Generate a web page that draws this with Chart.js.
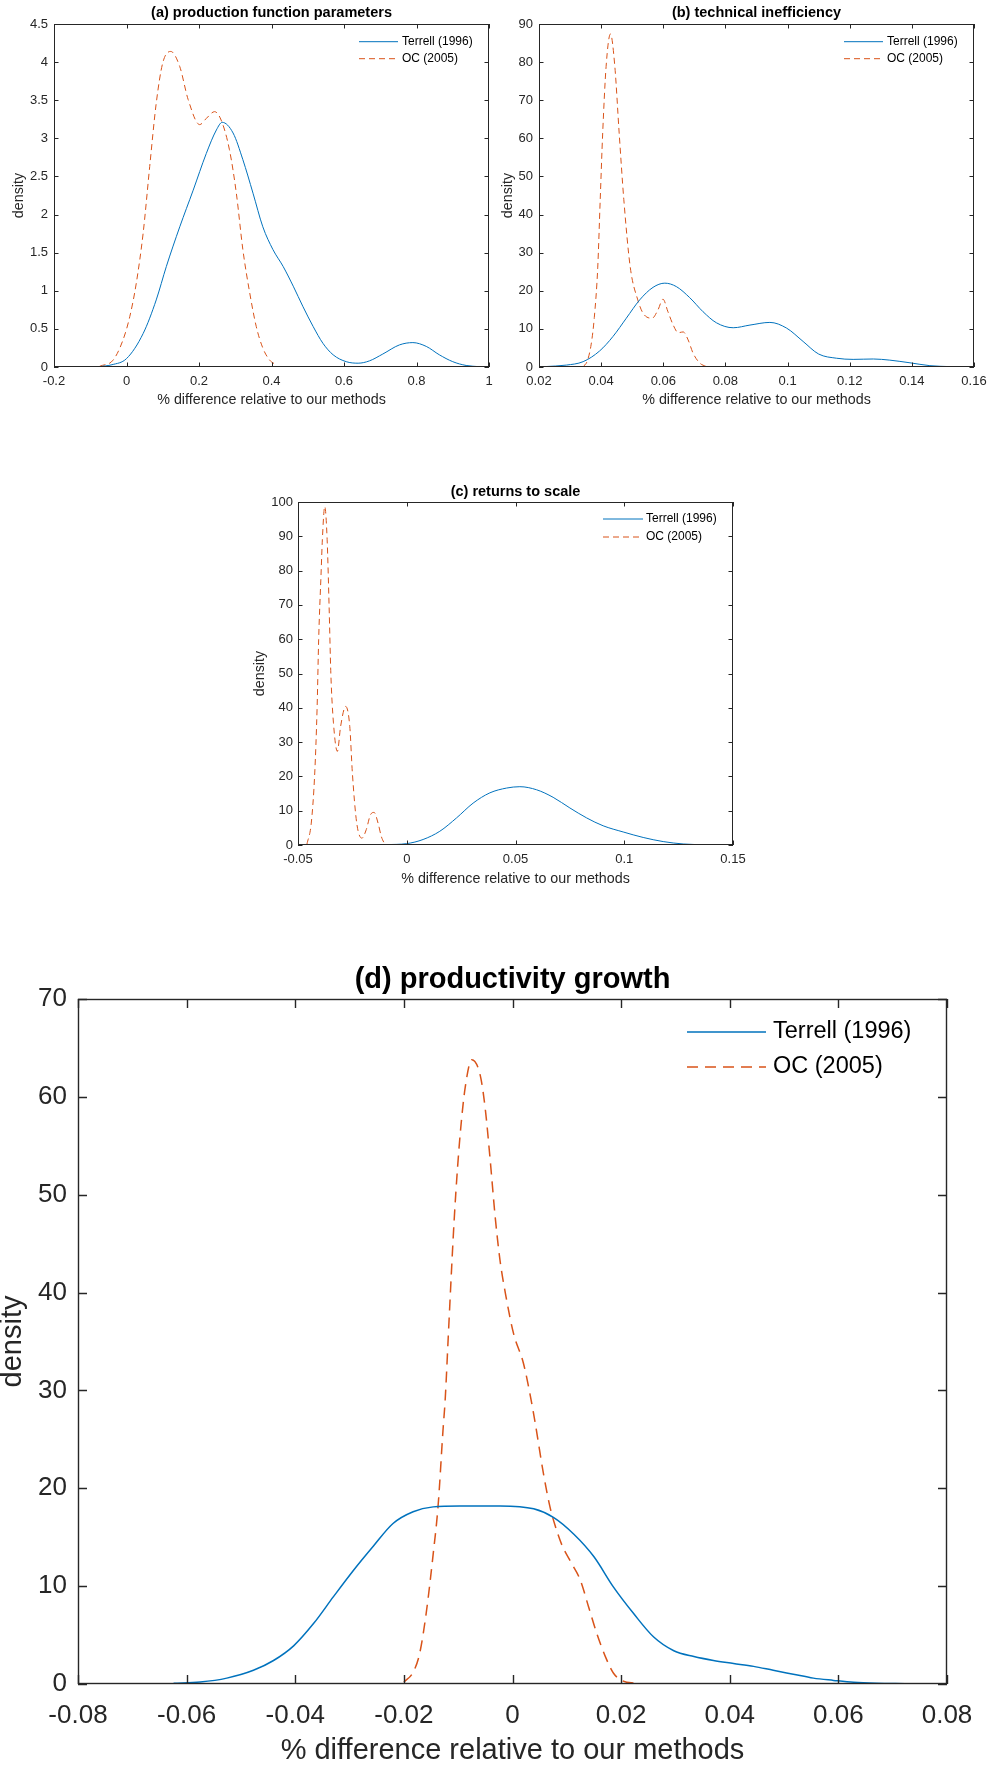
<!DOCTYPE html>
<html>
<head>
<meta charset="utf-8">
<script src="https://cdn.jsdelivr.net/npm/chart.js@4.4.1/dist/chart.umd.min.js"></script>
<style>
  html, body { margin: 0; padding: 0; background: #fff; overflow: hidden; }
  body { position: relative; width: 990px; height: 1768px; }
  canvas { position: absolute; }
</style>
</head>
<body>
<canvas id="panelA"></canvas>
<canvas id="panelB"></canvas>
<canvas id="panelC"></canvas>
<canvas id="panelD"></canvas>
<script>
const seriesLabels = ['Terrell (1996)', 'OC (2005)'];

// (a) production function parameters
const aTicksX = [-0.2, 0, 0.2, 0.4, 0.6, 0.8, 1];
const aTicksY = [0, 0.5, 1, 1.5, 2, 2.5, 3, 3.5, 4, 4.5];
const aTerrellX = [-0.074, -0.04, 0, 0.046, 0.082, 0.11, 0.147, 0.184, 0.22, 0.248, 0.264, 0.294, 0.321, 0.349, 0.376, 0.404, 0.432, 0.46, 0.487, 0.515, 0.542, 0.57, 0.606, 0.639, 0.67, 0.707, 0.753, 0.79, 0.827, 0.863, 0.9, 0.937, 0.974];
const aTerrellY = [0.005, 0.03, 0.11, 0.44, 0.88, 1.32, 1.84, 2.32, 2.8, 3.11, 3.21, 3.07, 2.72, 2.28, 1.84, 1.54, 1.32, 1.06, 0.79, 0.53, 0.31, 0.16, 0.07, 0.05, 0.08, 0.17, 0.29, 0.32, 0.27, 0.16, 0.07, 0.02, 0.004];
const aOcX = [-0.074, -0.037, -0.01, 0.009, 0.027, 0.046, 0.064, 0.082, 0.1, 0.122, 0.147, 0.17, 0.202, 0.22, 0.243, 0.261, 0.284, 0.303, 0.321, 0.34, 0.358, 0.376, 0.395, 0.413];
const aOcY = [0.01, 0.09, 0.35, 0.66, 1.1, 1.76, 2.63, 3.46, 3.99, 4.14, 3.94, 3.51, 3.18, 3.26, 3.35, 3.24, 2.85, 2.28, 1.54, 0.97, 0.53, 0.25, 0.09, 0.03];

// (b) technical inefficiency
const bTicksX = [0.02, 0.04, 0.06, 0.08, 0.1, 0.12, 0.14, 0.16];
const bTicksY = [0, 10, 20, 30, 40, 50, 60, 70, 80, 90];
const bTerrellX = [0.0218, 0.0288, 0.0342, 0.0395, 0.0438, 0.0481, 0.0524, 0.0567, 0.0605, 0.0642, 0.0685, 0.0728, 0.0771, 0.0825, 0.0879, 0.0943, 0.0997, 0.105, 0.11, 0.1158, 0.1211, 0.1276, 0.1329, 0.1394, 0.1458, 0.1523, 0.1576];
const bTerrellY = [0.1, 0.5, 1.4, 4.2, 8, 12.8, 17.6, 20.9, 22, 21.1, 18.2, 14.5, 11.6, 10.3, 11, 11.7, 10.2, 6.7, 3.4, 2.3, 2, 2.1, 1.8, 1.1, 0.35, 0.1, 0];
const bOcX = [0.0342, 0.0355, 0.0368, 0.0378, 0.0389, 0.0397, 0.0405, 0.0416, 0.043, 0.0444, 0.0458, 0.0473, 0.0494, 0.0518, 0.0535, 0.0564, 0.0583, 0.0599, 0.0615, 0.0632, 0.0648, 0.0664, 0.068, 0.0696, 0.0718, 0.0739];
const bOcY = [0.1, 1.5, 6, 13, 26, 43.9, 61.4, 78.9, 87.4, 78.9, 61.4, 43.9, 26, 17.6, 14.1, 12.8, 15, 17.8, 14.5, 11, 9, 9.2, 7.1, 3.6, 1, 0.1];

// (c) returns to scale
const cTicksX = [-0.05, 0, 0.05, 0.1, 0.15];
const cTicksY = [0, 10, 20, 30, 40, 50, 60, 70, 80, 90, 100];
const cTerrellX = [-0.0094, 0, 0.0075, 0.0152, 0.0229, 0.0305, 0.0382, 0.0459, 0.052, 0.0597, 0.0673, 0.075, 0.0827, 0.0903, 0.0995, 0.1087, 0.1179, 0.1271, 0.1394];
const cTerrellY = [0.1, 0.4, 1.6, 4, 7.9, 12.2, 15.2, 16.6, 17, 16.1, 13.9, 10.8, 7.9, 5.6, 3.8, 2.2, 1, 0.3, 0];
const cOcX = [-0.0459, -0.0439, -0.0423, -0.0412, -0.0405, -0.0394, -0.0388, -0.0377, -0.0366, -0.0357, -0.0349, -0.0337, -0.0319, -0.0304, -0.0281, -0.0262, -0.025, -0.023, -0.0206, -0.0186, -0.0167, -0.015, -0.0132, -0.0117, -0.0101];
const cOcY = [0.2, 6.4, 21, 40.4, 59.9, 79, 89, 98.7, 89, 69.6, 50, 35.6, 27.3, 34.6, 40.4, 34.6, 21, 6.4, 2, 4.5, 8.8, 9.5, 6.4, 2.5, 0.2];

// (d) productivity growth
const dTicksX = [-0.08, -0.06, -0.04, -0.02, 0, 0.02, 0.04, 0.06, 0.08];
const dTicksY = [0, 10, 20, 30, 40, 50, 60, 70];
const dTerrellX = [-0.0624, -0.0575, -0.0526, -0.0477, -0.044, -0.0403, -0.0366, -0.033, -0.0293, -0.0256, -0.022, -0.0183, -0.0146, -0.0097, -0.0023, 0.0039, 0.0076, 0.0113, 0.015, 0.0186, 0.0223, 0.026, 0.0297, 0.0334, 0.037, 0.0407, 0.0444, 0.048, 0.0517, 0.0554, 0.0591, 0.0628, 0.067, 0.0723];
const dTerrellY = [0.07, 0.2, 0.6, 1.4, 2.4, 3.9, 6.2, 8.9, 11.6, 14.1, 16.4, 17.6, 18.1, 18.2, 18.2, 17.9, 17, 15.3, 13, 9.9, 7.2, 4.8, 3.4, 2.8, 2.4, 2.1, 1.8, 1.4, 1, 0.6, 0.37, 0.17, 0.07, 0.03];
const dOcX = [-0.02, -0.0183, -0.0171, -0.0159, -0.0146, -0.0137, -0.0128, -0.0124, -0.0118, -0.0112, -0.0107, -0.0101, -0.0095, -0.0087, -0.0075, -0.0059, -0.005, -0.0041, -0.0032, -0.0023, -0.0013, 0.0002, 0.002, 0.0033, 0.0042, 0.0057, 0.0069, 0.0079, 0.0091, 0.0109, 0.0125, 0.014, 0.0155, 0.0171, 0.0186, 0.0204, 0.0226];
const dOcY = [0.2, 1.2, 3.1, 7.2, 13.3, 18.2, 25.9, 29, 35.8, 42.6, 47.8, 52.9, 57, 61, 63.8, 62.1, 58.7, 53.5, 47.8, 43.3, 39.9, 35.8, 32.8, 29.4, 26.6, 21.5, 18.1, 16.1, 14.2, 12.3, 10.6, 7.9, 5.2, 2.8, 1.1, 0.3, 0.07];

const FONT = '"Liberation Sans", Arial, Helvetica, sans-serif';
const AXIS_COLOR = '#262626';
const BLUE = '#0072BD';
const ORANGE = '#D95319';

function points(xs, ys) {
  return xs.map(function(x, i) { return { x: x, y: ys[i] }; });
}

// matlab style box with inward ticks on all four sides
const boxTicks = {
  id: 'boxTicks',
  afterDatasetsDraw(chart, args, o) {
    const ctx = chart.ctx;
    const a = chart.chartArea;
    const x = chart.scales.x, y = chart.scales.y;
    ctx.save();
    ctx.strokeStyle = AXIS_COLOR;
    ctx.lineWidth = o.width;
    ctx.beginPath();
    x.ticks.forEach(function(t) {
      const px = Math.round(x.getPixelForValue(t.value)) + 0.5;
      ctx.moveTo(px, a.bottom); ctx.lineTo(px, a.bottom - o.len);
      ctx.moveTo(px, a.top); ctx.lineTo(px, a.top + o.len);
    });
    y.ticks.forEach(function(t) {
      const py = Math.round(y.getPixelForValue(t.value)) + 0.5;
      ctx.moveTo(a.left, py); ctx.lineTo(a.left + o.len, py);
      ctx.moveTo(a.right, py); ctx.lineTo(a.right - o.len, py);
    });
    ctx.stroke();
    ctx.strokeRect(a.left + 0.5, a.top + 0.5, a.right - a.left - 1, a.bottom - a.top - 1);
    ctx.restore();
  }
};

// legend drawn inside the axes, top right, no box
const insideLegend = {
  id: 'insideLegend',
  afterDatasetsDraw(chart, args, o) {
    const ctx = chart.ctx;
    const a = chart.chartArea;
    ctx.save();
    ctx.font = o.size + 'px ' + FONT;
    ctx.textBaseline = 'middle';
    ctx.textAlign = 'left';
    ctx.fillStyle = '#000';
    chart.data.datasets.forEach(function(ds, i) {
      const yy = a.top + o.rows[i];
      ctx.strokeStyle = ds.borderColor;
      ctx.lineWidth = ds.borderWidth;
      ctx.setLineDash(ds.borderDash || []);
      ctx.beginPath();
      ctx.moveTo(a.right - o.lineStart, yy);
      ctx.lineTo(a.right - o.lineEnd, yy);
      ctx.stroke();
      ctx.setLineDash([]);
      ctx.fillText(ds.label, a.right - o.textStart, yy);
    });
    ctx.restore();
  }
};

function createDensityChart(canvasId, p) {
  const canvas = document.getElementById(canvasId);
  const w = p.box.right - p.box.left + 2 * p.L;
  const h = p.T + (p.box.bottom - p.box.top) + p.B;
  canvas.width = w;
  canvas.height = h;
  canvas.style.left = (p.box.left - p.L) + 'px';
  canvas.style.top = (p.box.top - p.T) + 'px';
  canvas.style.width = w + 'px';
  canvas.style.height = h + 'px';

  const tickFont = { family: FONT, size: p.tick };
  const labelFont = { family: FONT, size: p.label, lineHeight: 1.2 };
  const titleTop = p.titleTop || 0;

  return new Chart(canvas, {
    type: 'line',
    data: {
      datasets: [
        { label: seriesLabels[0], data: points(p.terrellX, p.terrellY), borderColor: BLUE, borderWidth: p.lw,
          pointRadius: 0, fill: false, cubicInterpolationMode: 'monotone' },
        { label: seriesLabels[1], data: points(p.ocX, p.ocY), borderColor: ORANGE, borderWidth: p.lw,
          borderDash: p.dash, pointRadius: 0, fill: false, cubicInterpolationMode: 'monotone' }
      ]
    },
    options: {
      responsive: false,
      animation: false,
      devicePixelRatio: 1,
      events: [],
      layout: { padding: 0 },
      plugins: {
        legend: { display: false },
        tooltip: { enabled: false },
        title: {
          display: true, text: p.title, color: '#000',
          font: { family: FONT, size: p.titleSize, weight: 'bold', lineHeight: 1.2 },
          padding: { top: titleTop, bottom: p.T - titleTop - p.titleSize * 1.2 }
        },
        boxTicks: { width: p.axisWidth, len: p.tickLen },
        insideLegend: p.legend
      },
      scales: {
        x: {
          type: 'linear', position: 'bottom',
          min: p.xTicks[0], max: p.xTicks[p.xTicks.length - 1],
          afterBuildTicks: function(s) { s.ticks = p.xTicks.map(function(v) { return { value: v }; }); },
          afterFit: function(s) { s.height = p.B; },
          ticks: { color: AXIS_COLOR, font: tickFont, padding: p.xPad, maxRotation: 0, autoSkip: false,
                   callback: function(v) { return String(v); } },
          grid: { display: false, drawTicks: false, tickLength: 0 },
          border: { display: false },
          title: { display: true, text: '% difference relative to our methods', color: AXIS_COLOR, font: labelFont, padding: 0 }
        },
        y: {
          type: 'linear', position: 'left',
          min: p.yTicks[0], max: p.yTicks[p.yTicks.length - 1],
          afterBuildTicks: function(s) { s.ticks = p.yTicks.map(function(v) { return { value: v }; }); },
          afterFit: function(s) { s.width = p.L; },
          ticks: { color: AXIS_COLOR, font: tickFont, padding: p.yPad, autoSkip: false,
                   callback: function(v) { return String(v); } },
          grid: { display: false, drawTicks: false, tickLength: 0 },
          border: { display: false },
          title: { display: true, text: 'density', color: AXIS_COLOR, font: labelFont, padding: 0 }
        },
        yr: {
          type: 'linear', position: 'right', display: true,
          afterFit: function(s) { s.width = p.L; },
          ticks: { display: false },
          grid: { display: false, drawTicks: false, tickLength: 0 },
          border: { display: false }
        }
      }
    },
    plugins: [boxTicks, insideLegend]
  });
}

const smallPanel = {
  tick: 13, label: 14.3, titleSize: 14.5, lw: 1, dash: [6, 4], axisWidth: 1, tickLen: 4.5,
  xPad: 7, yPad: 6
};

createDensityChart('panelA', Object.assign({}, smallPanel, {
  box: { left: 54, top: 24, right: 489, bottom: 367 }, L: 44, T: 20, B: 42,
  title: '(a) production function parameters',
  xTicks: aTicksX, yTicks: aTicksY,
  terrellX: aTerrellX, terrellY: aTerrellY, ocX: aOcX, ocY: aOcY,
  legend: { size: 12, lineStart: 130, lineEnd: 91, textStart: 87, rows: [17.7, 34.7] }
}));

createDensityChart('panelB', Object.assign({}, smallPanel, {
  box: { left: 539, top: 24, right: 974, bottom: 367 }, L: 40, T: 20, B: 42,
  title: '(b) technical inefficiency',
  xTicks: bTicksX, yTicks: bTicksY,
  terrellX: bTerrellX, terrellY: bTerrellY, ocX: bOcX, ocY: bOcY,
  legend: { size: 12, lineStart: 130, lineEnd: 91, textStart: 87, rows: [17.7, 34.7] }
}));

createDensityChart('panelC', Object.assign({}, smallPanel, {
  box: { left: 298, top: 502, right: 733, bottom: 845 }, L: 47, T: 19, B: 43,
  yPad: 5,
  title: '(c) returns to scale',
  xTicks: cTicksX, yTicks: cTicksY,
  terrellX: cTerrellX, terrellY: cTerrellY, ocX: cOcX, ocY: cOcY,
  legend: { size: 12, lineStart: 130, lineEnd: 90, textStart: 87, rows: [17, 35] }
}));

createDensityChart('panelD', {
  box: { left: 78, top: 999, right: 947, bottom: 1684 }, L: 82, T: 41, B: 84,
  tick: 26, label: 29, titleSize: 29, titleTop: 5, lw: 1.5, dash: [11, 7], axisWidth: 1.4, tickLen: 9,
  xPad: 16, yPad: 11,
  title: '(d) productivity growth',
  xTicks: dTicksX, yTicks: dTicksY,
  terrellX: dTerrellX, terrellY: dTerrellY, ocX: dOcX, ocY: dOcY,
  legend: { size: 23.5, lineStart: 260, lineEnd: 181, textStart: 174, rows: [33, 68] }
});
</script>
</body>
</html>
